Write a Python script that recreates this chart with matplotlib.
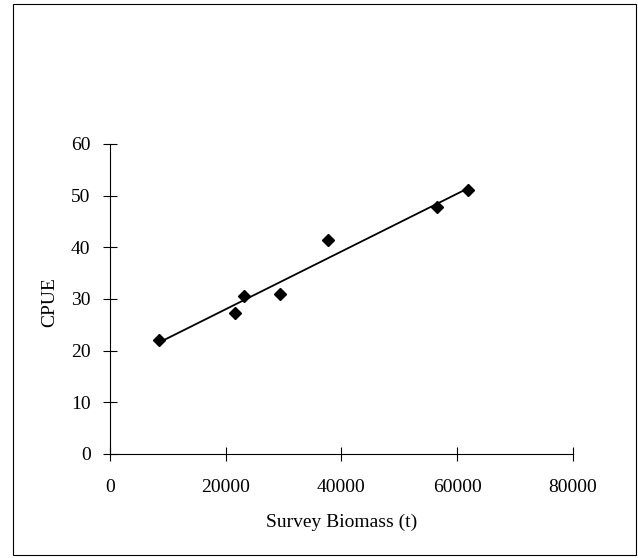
import numpy as np
import matplotlib
matplotlib.use('Agg')
import matplotlib.pyplot as plt
from matplotlib.patches import Rectangle

plt.rcParams['font.family'] = 'Liberation Serif'

# survey biomass (t) and CPUE
biomass = [8400, 21600, 23200, 29300, 37600, 56500, 61900]
cpue = [22.0, 27.3, 30.6, 30.9, 41.5, 47.8, 51.1]

xticks = [0, 20000, 40000, 60000, 80000]
yticks = [0, 10, 20, 30, 40, 50, 60]

fig = plt.figure(figsize=(6.38, 5.58), dpi=100)
ax = fig.add_axes([0.1724, 0.1864, 0.7257, 0.5556])

# linear trend line over the data range
b, a = np.polyfit(biomass, cpue, 1)
xs = np.array([min(biomass), max(biomass)])
ax.plot(xs, a + b * xs, color='black', lw=1.3)
ax.plot(biomass, cpue, 'D', color='black', ms=6)

ax.set_xlim(0, 80000)
ax.set_ylim(0, 60)
ax.set_xticks(xticks)
ax.set_yticks(yticks)
ax.tick_params(direction='inout', length=10, width=0.8, labelsize=14)
ax.tick_params(axis='x', pad=13)
ax.tick_params(axis='y', pad=9)
for s in ['top', 'right']:
    ax.spines[s].set_visible(False)
for s in ['left', 'bottom']:
    ax.spines[s].set_linewidth(0.8)

ax.set_xlabel('Survey Biomass (t)', fontsize=14, va='center')
ax.set_ylabel('CPUE', fontsize=14, va='center')
ax.xaxis.set_label_coords(0.5, -0.219)
ax.yaxis.set_label_coords(-0.13, 0.49)

# outer frame
fig.patches.append(Rectangle((13/638, 3/558), 623/638, 551/558, transform=fig.transFigure,
                             fill=False, edgecolor='black', lw=0.8))

fig.savefig('out.png', dpi=100)
